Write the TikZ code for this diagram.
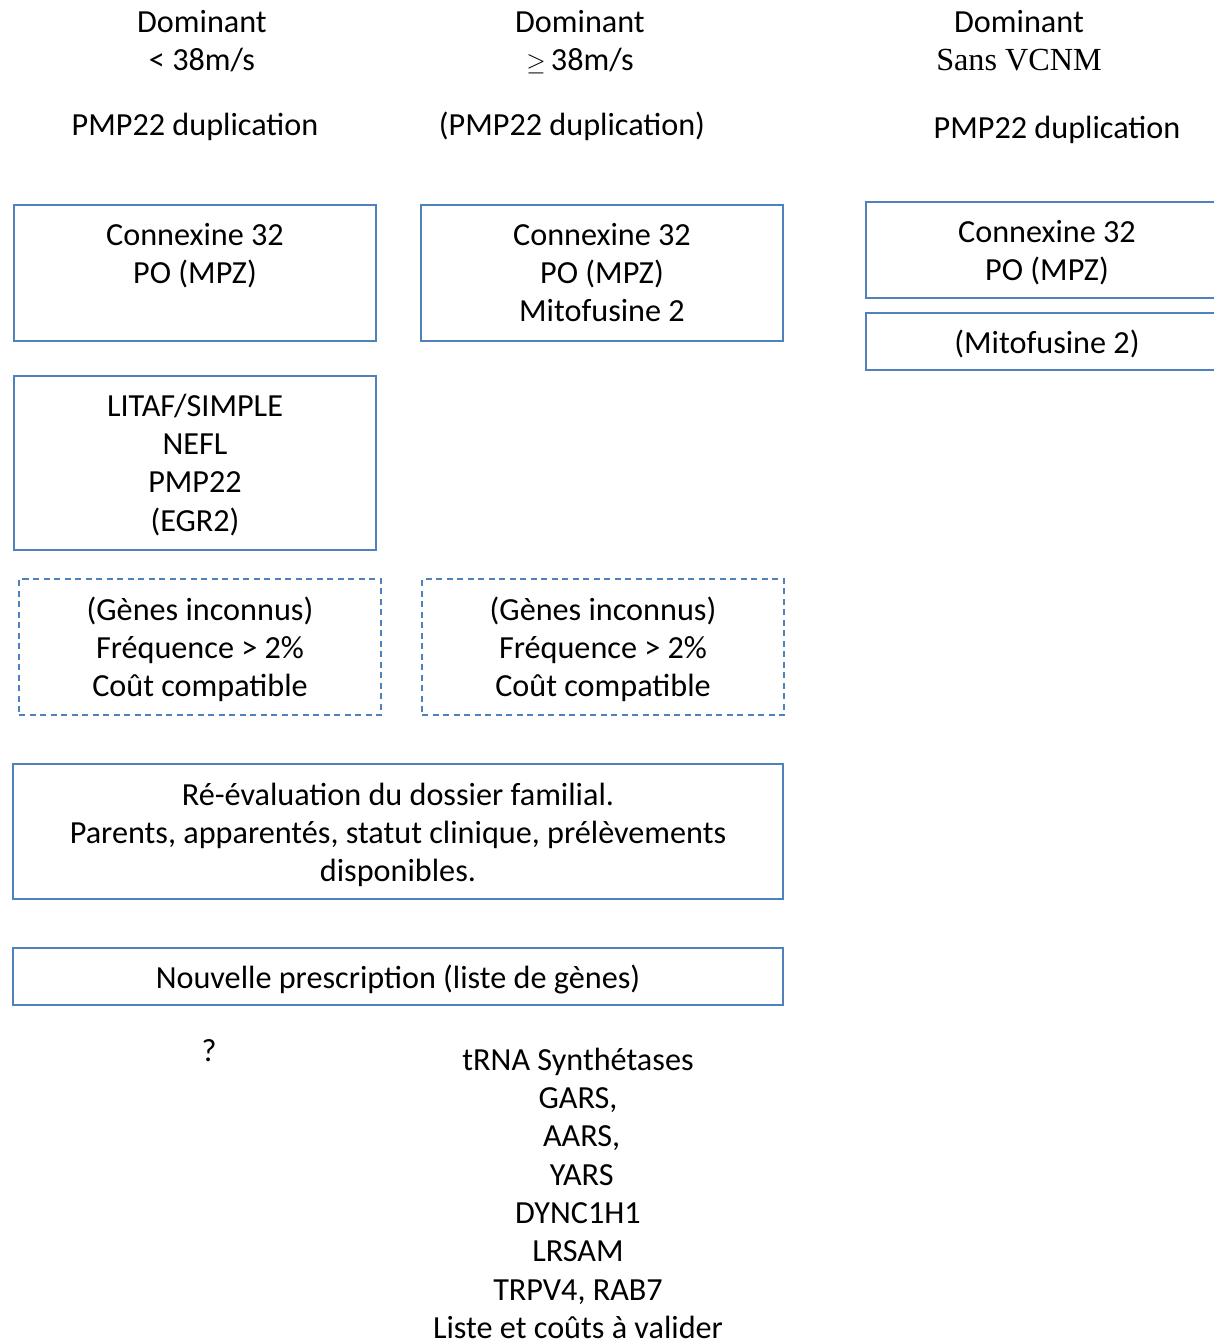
\documentclass[tikz,border=0pt]{standalone}
\usepackage{fontspec}
\setmainfont{Carlito}
\newfontfamily\serifface{Liberation Serif}
\usetikzlibrary{positioning}
\definecolor{frameblue}{HTML}{4F81BD}
% first-line strut: fixes the distance from a text block's top to its first baseline
\newcommand{\fl}{\rule{0pt}{26pt}}
\tikzset{
  body/.style={font=\fontsize{32.2}{38.3}\selectfont},
  txt/.style={body, align=center, inner sep=0pt, anchor=north},
  box/.style={draw=frameblue, line width=2pt, anchor=north west, inner sep=0pt},
  dbox/.style={box, dash pattern=on 6pt off 4.5pt},
}
\begin{document}
\begin{tikzpicture}[x=1pt, y=-1pt]
  \useasboundingbox (0,0) rectangle (1214,1342);
  \clip (0,0) rectangle (1214,1342);

  % column headings
  \node[txt] (h1) at (202,6) {\fl Dominant\\< 38m/s};
  \node[txt] (h2) at (580,6) {\fl Dominant\\$\geq$\,38m/s};
  \node[txt] (h3) at (1019,6) {\fl Dominant\\{\serifface Sans VCNM}};

  \node[txt] (p1) at (195,109) {\fl PMP22 duplication};
  \node[txt] (p2) at (572,109) {\fl (PMP22 duplication)};
  \node[txt] (p3) at (1057,112) {\fl PMP22 duplication};

  % first column
  \node[box, minimum width=362pt, minimum height=136pt] (b1) at (13,204) {};
  \node[txt, below=15pt of b1.north] (t1) {\fl Connexine 32\\PO (MPZ)};

  \node[box, minimum width=362pt, minimum height=174pt] (b5) at (13,375) {};
  \node[txt, below=15pt of b5.north] (t5) {\fl LITAF/SIMPLE\\NEFL\\PMP22\\(EGR2)};

  \node[dbox, minimum width=362pt, minimum height=136pt] (d1) at (18,578) {};
  \node[txt, below=16pt of d1.north] (td1) {\fl (Gènes inconnus)\\Fréquence > 2\%\\Coût compatible};

  % second column
  \node[box, minimum width=362pt, minimum height=136pt] (b2) at (420,204) {};
  \node[txt, below=15pt of b2.north] (t2) {\fl Connexine 32\\PO (MPZ)\\Mitofusine 2};

  \node[dbox, minimum width=362pt, minimum height=136pt] (d2) at (421,578) {};
  \node[txt, below=16pt of d2.north] (td2) {\fl (Gènes inconnus)\\Fréquence > 2\%\\Coût compatible};

  % third column
  \node[box, minimum width=362pt, minimum height=96pt] (b3) at (865,201) {};
  \node[txt, below=15pt of b3.north] (t3) {\fl Connexine 32\\PO (MPZ)};

  \node[box, minimum width=362pt, minimum height=57pt] (b4) at (865,312) {};
  \node[txt, below=15pt of b4.north] (t4) {\fl (Mitofusine 2)};

  % wide boxes
  \node[box, minimum width=770pt, minimum height=135pt] (b6) at (12,763) {};
  \node[txt, below=16pt of b6.north] (t6) {\fl Ré-évaluation du dossier familial.\\Parents, apparentés, statut clinique, prélèvements\\disponibles.};

  \node[box, minimum width=770pt, minimum height=57pt] (b7) at (12,947) {};
  \node[txt, below=15pt of b7.north] (t7) {\fl Nouvelle prescription (liste de gènes)};

  % bottom notes
  \node[txt] (q) at (209,1035) {\fl ?};
  \node[txt] (lst) at (578,1044) {\fl tRNA Synthétases\\GARS,\\\ AARS,\\\ YARS\\DYNC1H1\\LRSAM\\TRPV4, RAB7\\Liste et coûts à valider};
\end{tikzpicture}
\end{document}
